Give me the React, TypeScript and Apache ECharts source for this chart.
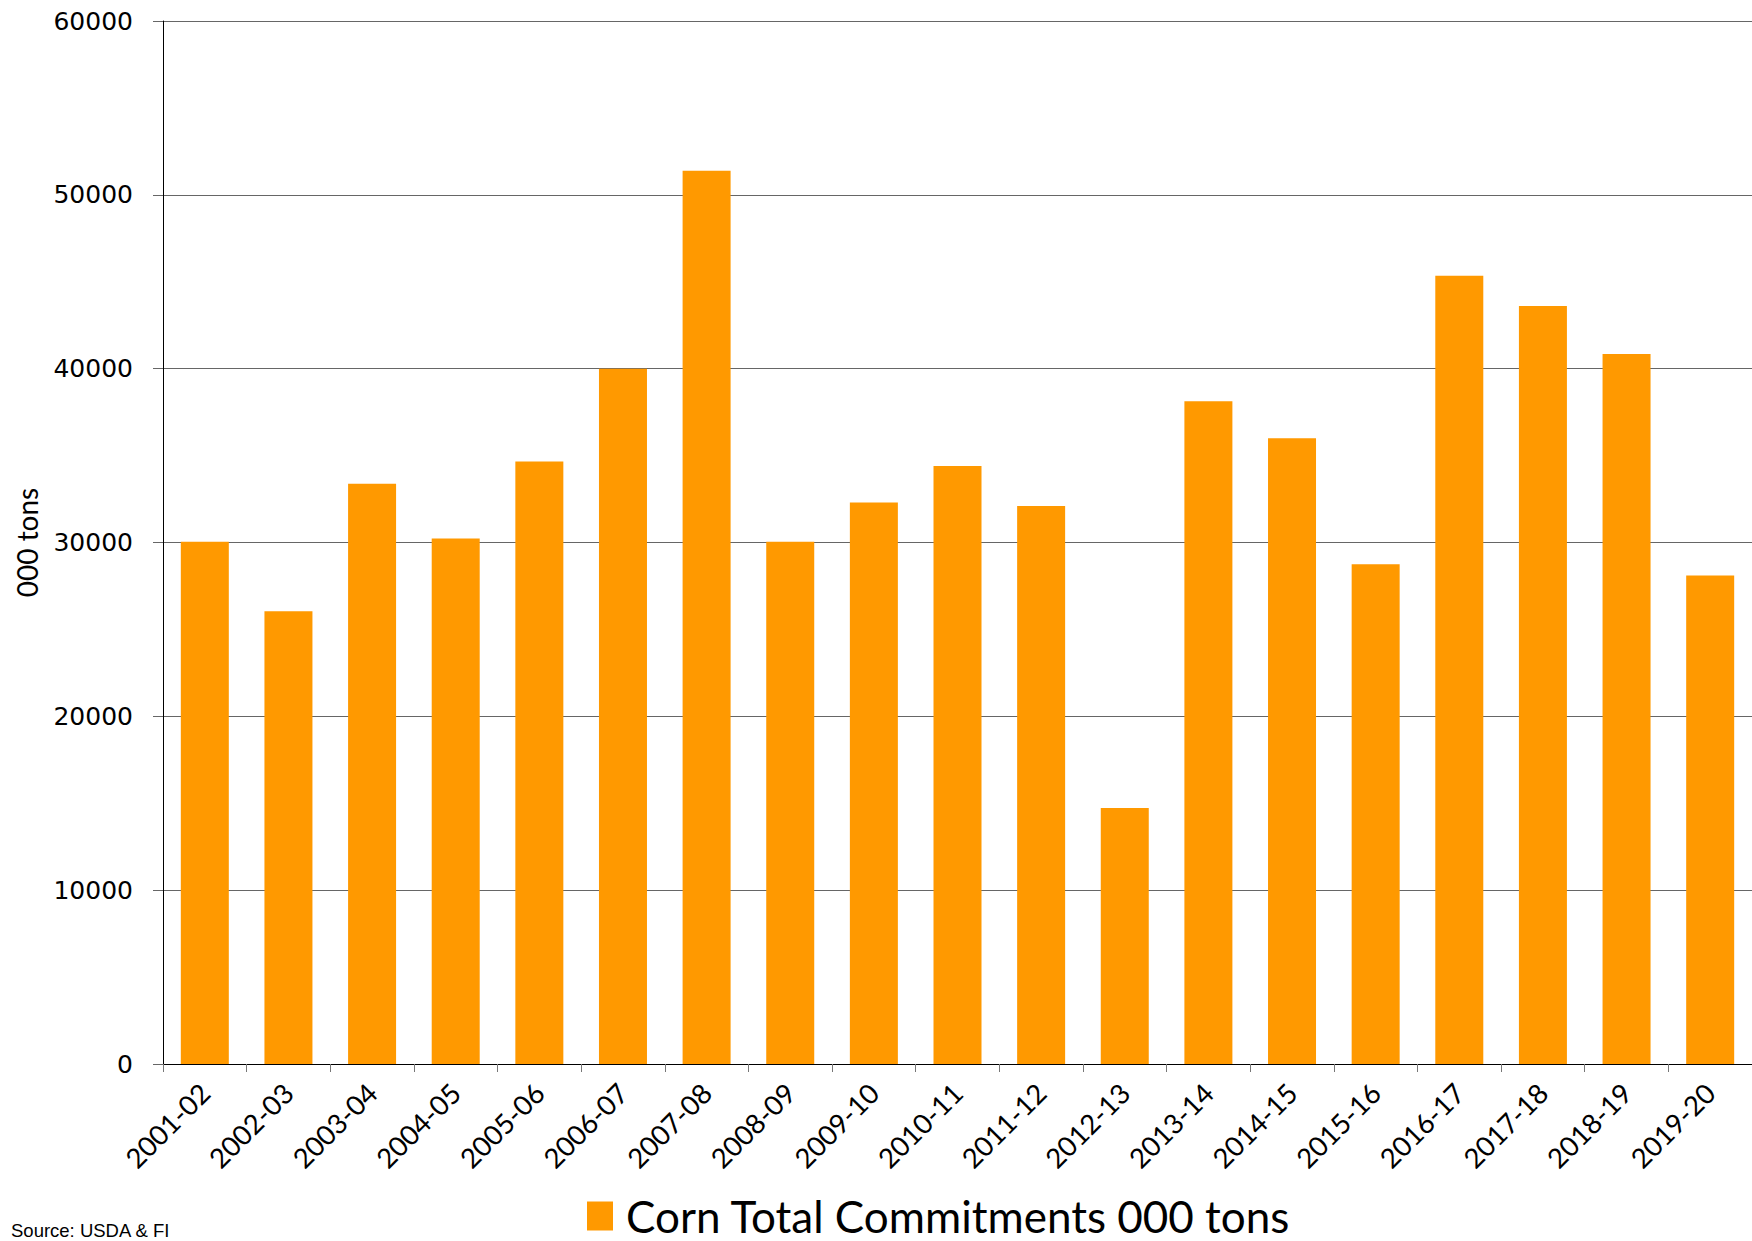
import React, { useEffect, useRef } from "react";
import * as echarts from "echarts";

const categories = [
  "2001-02", "2002-03", "2003-04", "2004-05", "2005-06", "2006-07", "2007-08",
  "2008-09", "2009-10", "2010-11", "2011-12", "2012-13", "2013-14", "2014-15",
  "2015-16", "2016-17", "2017-18", "2018-19", "2019-20",
];
const commitments = [
  30050, 26050, 33380, 30230, 34660, 40000, 51380, 30050, 32300, 34400, 32100,
  14730, 38130, 36000, 28750, 45340, 43600, 40840, 28100,
];
const seriesName = "Corn Total Commitments 000 tons";
const yAxisTitle = "000 tons";
const sourceText = "Source: USDA & FI";
const yMin = 0;
const yMax = 60000;
const yInterval = 10000;

export default function App() {
  const ref = useRef<HTMLDivElement>(null);
  useEffect(() => {
    if (!ref.current) return;
    const chart = echarts.init(ref.current, undefined, { renderer: "svg" });
    chart.setOption({
      animation: false,
      backgroundColor: "#ffffff",
      grid: { left: 163, right: 0, top: 21, bottom: 177, containLabel: false },
      xAxis: {
        type: "category",
        data: categories,
        axisLine: { show: true, lineStyle: { color: "#000", width: 1 } },
        axisTick: { show: true, length: 8, lineStyle: { color: "#777" } },
        axisLabel: {
          interval: 0,
          rotate: 45,
          margin: 24,
          fontFamily: "Lato",
          fontSize: 27.5,
          color: "#000",
        },
      },
      yAxis: {
        type: "value",
        min: yMin,
        max: yMax,
        interval: yInterval,
        name: yAxisTitle,
        nameLocation: "middle",
        nameRotate: 90,
        nameGap: 122,
        nameTextStyle: { fontFamily: "Lato", fontSize: 28, color: "#000" },
        axisLine: { show: true, lineStyle: { color: "#000", width: 1 } },
        axisTick: { show: true, length: 10, lineStyle: { color: "#666" } },
        splitLine: { show: true, lineStyle: { color: "#666", width: 1 } },
        axisLabel: {
          margin: 30,
          fontFamily: "DejaVu Sans",
          fontSize: 25,
          color: "#000",
          formatter: (v: number) => String(v),
        },
      },
      legend: {
        data: [seriesName],
        left: 587,
        top: 1194,
        padding: 0,
        icon: "rect",
        itemWidth: 26,
        itemHeight: 29,
        textStyle: {
          fontFamily: "Lato",
          fontSize: 44,
          lineHeight: 40,
          color: "#000",
          padding: [0, 0, 0, 8],
        },
      },
      graphic: [
        {
          type: "text",
          left: 11,
          top: 1221,
          style: {
            text: sourceText,
            fontFamily: "Liberation Sans",
            fontSize: 18.5,
            fill: "#000",
          },
        },
      ],
      series: [
        {
          name: seriesName,
          type: "bar",
          data: commitments,
          barWidth: 48,
          itemStyle: { color: "#FF9900" },
        },
      ],
    });
    return () => chart.dispose();
  }, []);
  return (
    <div
      ref={ref}
      style={{ position: "fixed", left: 0, top: 0, width: 1752, height: 1241, background: "#fff" }}
    />
  );
}
